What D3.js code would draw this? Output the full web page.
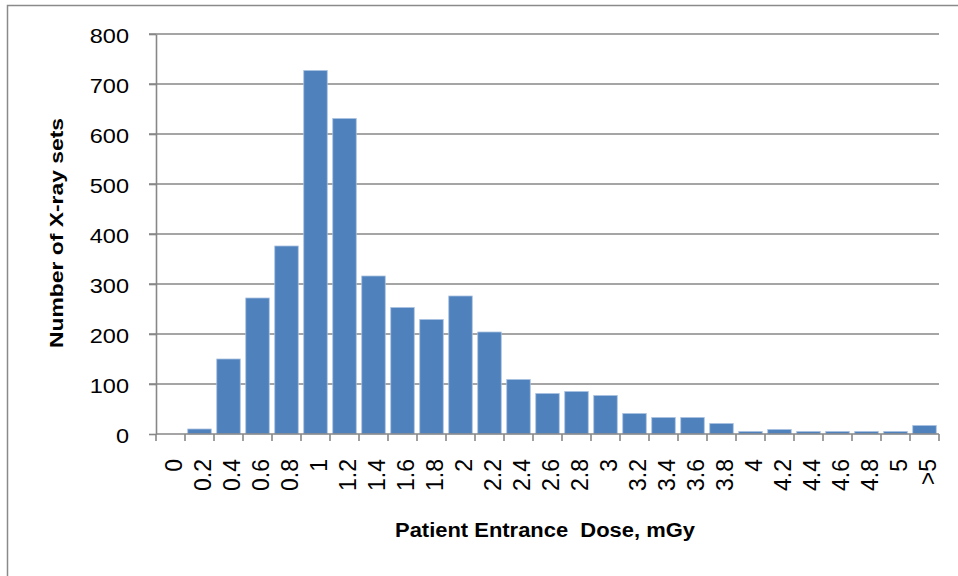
<!DOCTYPE html>
<html>
<head>
<meta charset="utf-8">
<script src="https://cdn.jsdelivr.net/npm/d3@7"></script>
<style>
  html, body { margin: 0; padding: 0; background: #fff; }
  svg { display: block; }
</style>
</head>
<body>
<svg id="chart" width="958" height="576"></svg>
<script>
const categories = ["0","0.2","0.4","0.6","0.8","1","1.2","1.4","1.6","1.8","2","2.2","2.4","2.6","2.8","3","3.2","3.4","3.6","3.8","4","4.2","4.4","4.6","4.8","5",">5"];
const values = [0,10,150,272,376,727,631,316,253,229,276,204,109,81,85,77,41,33,33,21,5,9,5,5,5,5,17];
const yTicks = [0,100,200,300,400,500,600,700,800];
const xTitle = "Patient Entrance\u00a0 Dose, mGy";
const yTitle = "Number of X-ray sets";

(function () {
const svg = d3.select("#chart");
const pLeft = 156, pRight = 939, pTop = 34, pBottom = 434;
const gridColor = "#878787";

// outer frame
svg.append("rect").attr("x", 7.5).attr("y", 5.5).attr("width", 1000).attr("height", 1000)
  .attr("fill", "none").attr("stroke", "#8a8a8a").attr("stroke-width", 1.5);

const x = d3.scaleBand().domain(categories).range([pLeft, pRight]).paddingInner(0.19).paddingOuter(0.095);
const y = d3.scaleLinear().domain([0, 800]).range([pBottom, pTop]);

// gridlines
svg.append("g").selectAll("line").data(yTicks.filter(d => d > 0)).join("line")
  .attr("x1", pLeft - 7).attr("x2", pRight)
  .attr("y1", d => y(d)).attr("y2", d => y(d))
  .attr("stroke", gridColor).attr("stroke-width", 1.6);

// bars
svg.append("g").selectAll("rect").data(values).join("rect")
  .attr("x", (d, i) => x(categories[i]))
  .attr("width", x.bandwidth())
  .attr("y", d => y(d))
  .attr("height", d => y(0) - y(d))
  .attr("fill", "#4F81BD")
  .attr("stroke", "#a9c1e0").attr("stroke-width", 0.8);

// y axis
const yAxis = d3.axisLeft(y).tickValues(yTicks).tickSize(7).tickSizeOuter(0).tickPadding(20);
const gy = svg.append("g").attr("transform", `translate(${pLeft},0)`).call(yAxis);
gy.select(".domain").attr("stroke", gridColor).attr("stroke-width", 1.6);
gy.selectAll(".tick line").attr("stroke", gridColor).attr("stroke-width", 1.6);
gy.selectAll(".tick text")
  .attr("font-family", "Liberation Sans, Arial, sans-serif")
  .attr("font-size", 21).attr("fill", "#000")
  .attr("x", 0).attr("dy", "0.35em")
  .attr("transform", "translate(-27,1) scale(1.12,1)");

// x axis: ticks at band boundaries
const n = categories.length;
const boundaries = d3.range(n + 1).map(i => pLeft + i * (pRight - pLeft) / n);
const gx = svg.append("g");
gx.append("line").attr("x1", pLeft).attr("x2", pRight).attr("y1", pBottom).attr("y2", pBottom)
  .attr("stroke", gridColor).attr("stroke-width", 1.6);
gx.selectAll("line.tk").data(boundaries).join("line").attr("class", "tk")
  .attr("x1", d => d).attr("x2", d => d).attr("y1", pBottom).attr("y2", pBottom + 7)
  .attr("stroke", gridColor).attr("stroke-width", 1.6);
gx.selectAll("text").data(categories).join("text")
  .attr("transform", d => `translate(${x(d) + x.bandwidth() / 2 + 3},459) rotate(-90)`)
  .attr("text-anchor", "end").attr("dy", "0.35em")
  .attr("font-family", "Liberation Sans, Arial, sans-serif")
  .attr("font-size", 23).attr("fill", "#000")
  .text(d => d);

// titles
svg.append("text")
  .attr("x", 395).attr("y", 537)
  .attr("textLength", 300).attr("lengthAdjust", "spacingAndGlyphs")
  .attr("font-family", "Liberation Sans, Arial, sans-serif").attr("font-weight", "bold")
  .attr("font-size", 19.5).attr("fill", "#000")
  .text(xTitle);

svg.append("text")
  .attr("transform", "translate(63,348) rotate(-90)")
  .attr("textLength", 230).attr("lengthAdjust", "spacingAndGlyphs")
  .attr("font-family", "Liberation Sans, Arial, sans-serif").attr("font-weight", "bold")
  .attr("font-size", 19).attr("fill", "#000")
  .text(yTitle);
})();
</script>
</body>
</html>
